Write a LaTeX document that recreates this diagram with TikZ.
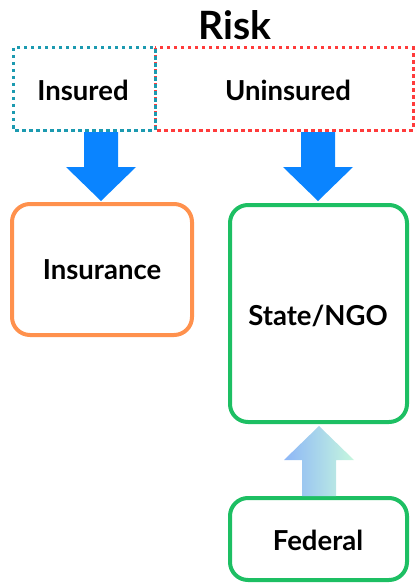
\documentclass[tikz,border=0pt]{standalone}
\usepackage{fontspec}
\setmainfont{Lato}
\usetikzlibrary{calc}
\definecolor{teal1}{HTML}{1C9AB0}
\definecolor{red1}{HTML}{FF3B3B}
\definecolor{orange1}{HTML}{FF914D}
\definecolor{green1}{HTML}{1DBF63}
\definecolor{blue1}{HTML}{0A84FF}
\definecolor{gradL}{HTML}{8DB6F7}
\definecolor{gradR}{HTML}{C6F7DE}
\tikzset{
  dotbox/.style={line width=3pt, dash pattern=on 3.5pt off 3.5pt},
  roundbox/.style={line width=4pt, rounded corners=18pt},
  lbl/.style={font=\bfseries\fontsize{27.5}{32}\selectfont, text=black, inner sep=0pt},
  bigarrow/.style={fill=blue1, draw=none}
}
\begin{document}
\begin{tikzpicture}[x=1pt,y=-1pt]
\useasboundingbox (0,0) rectangle (416,583);
% title
\node[font=\bfseries\fontsize{39}{44}\selectfont, inner sep=0pt] (risk) at (235,25) {Risk};
% dotted boxes
\draw[dotbox, draw=red1] (155,48) rectangle (413,130);
\draw[dotbox, draw=teal1] (13,48) rectangle (155,130);
\node[lbl] (insured) at (83,90) {Insured};
\node[lbl] (uninsured) at (288,90) {Uninsured};
\coordinate (insB) at (101,132);
\coordinate (uninsB) at (318,132);
% rounded boxes
\draw[roundbox, draw=orange1] (12,204) rectangle (192,335);
\node[lbl] (insurance) at (102,270) {Insurance};
\draw[roundbox, draw=green1] (230,205) rectangle (407,422);
\node[lbl] (state) at (318,316) {State/NGO};
\draw[roundbox, draw=green1] (230,498) rectangle (407,580);
\node[lbl] (federal) at (318,540) {Federal};
% down arrows
\foreach \c in {insB,uninsB}{
  \fill[bigarrow] ($(\c)+(-17,0)$) -- ($(\c)+(17,0)$) -- ($(\c)+(17,35)$) -- ($(\c)+(35,35)$) -- ($(\c)+(0,69)$) -- ($(\c)+(-35,35)$) -- ($(\c)+(-17,35)$) -- cycle;
}
% up gradient arrow
\coordinate (upT) at (319,426);
\shade[left color=gradL, right color=gradR] ($(upT)+(-17,70)$) -- ($(upT)+(-17,34)$) -- ($(upT)+(-35,34)$) -- (upT) -- ($(upT)+(35,34)$) -- ($(upT)+(17,34)$) -- ($(upT)+(17,70)$) -- cycle;
\end{tikzpicture}
\end{document}
